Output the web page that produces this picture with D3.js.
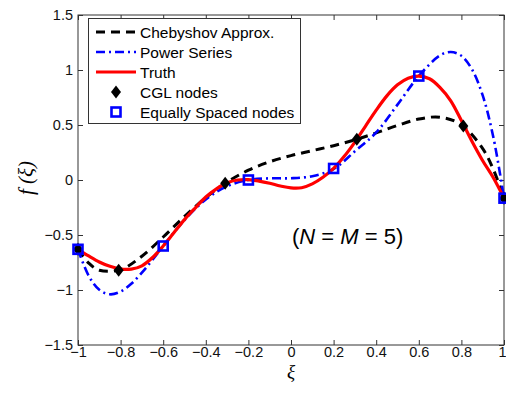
<!DOCTYPE html>
<html>
<head>
<meta charset="utf-8">
<script src="https://cdn.jsdelivr.net/npm/d3@7"></script>
<style>
  html, body { margin: 0; padding: 0; background: #fff; }
  svg { display: block; }
  text { font-family: "Liberation Sans", Arial, Helvetica, sans-serif; }
</style>
</head>
<body>
<svg id="chart" width="506" height="396"></svg>
<script>
// Sample grids and values for each curve
const truthX = [-1, -0.95, -0.9, -0.85, -0.8, -0.75, -0.7, -0.65, -0.6, -0.55, -0.5, -0.45, -0.4, -0.35, -0.3, -0.25, -0.2, -0.15, -0.1, -0.05, 0, 0.05, 0.1, 0.15, 0.2, 0.25, 0.3, 0.35, 0.4, 0.45, 0.5, 0.55, 0.6, 0.65, 0.7, 0.75, 0.8, 0.85, 0.9, 0.95, 1];
const truthY = [-0.63, -0.69, -0.745, -0.785, -0.81, -0.81, -0.78, -0.705, -0.60, -0.48, -0.36, -0.255, -0.155, -0.08, -0.025, 0.0, 0.003, -0.01, -0.03, -0.055, -0.072, -0.07, -0.035, 0.025, 0.105, 0.215, 0.345, 0.49, 0.635, 0.765, 0.865, 0.925, 0.945, 0.92, 0.84, 0.72, 0.54, 0.35, 0.175, 0.02, -0.165];

const chebX = [-1, -0.95, -0.9, -0.8, -0.7, -0.6, -0.5, -0.4, -0.3, -0.2, -0.1, 0, 0.1, 0.2, 0.3, 0.4, 0.5, 0.6, 0.7, 0.8, 0.9, 0.95, 1];
const chebY = [-0.63, -0.755, -0.820, -0.814, -0.693, -0.518, -0.331, -0.160, -0.019, 0.089, 0.166, 0.222, 0.267, 0.312, 0.365, 0.428, 0.496, 0.554, 0.571, 0.502, 0.285, 0.096, -0.165];

const powerX = [-1, -0.95, -0.9, -0.85, -0.8, -0.75, -0.7, -0.65, -0.6, -0.5, -0.4, -0.3, -0.2, -0.1, 0, 0.1, 0.2, 0.3, 0.4, 0.5, 0.6, 0.7, 0.75, 0.8, 0.85, 0.9, 0.95, 1];
const powerY = [-0.63, -0.870, -0.998, -1.039, -1.015, -0.944, -0.843, -0.725, -0.60, -0.364, -0.177, -0.057, 0.0, 0.015, 0.016, 0.035, 0.10, 0.261, 0.432, 0.685, 0.945, 1.133, 1.164, 1.129, 1.005, 0.769, 0.389, -0.165];

// Interpolation nodes
const cglX = [-1, -0.809, -0.309, 0.309, 0.809, 1];
const cglY = [-0.63, -0.82, -0.03, 0.37, 0.49, -0.165];
const eqX = [-1, -0.6, -0.2, 0.2, 0.6, 1];
const eqY = [-0.63, -0.60, 0.0, 0.105, 0.945, -0.165];

// Axis ticks
const xTicks = [-1, -0.8, -0.6, -0.4, -0.2, 0, 0.2, 0.4, 0.6, 0.8, 1];
const yTicks = [-1.5, -1, -0.5, 0, 0.5, 1, 1.5];

const legendLabels = ["Chebyshov Approx.", "Power Series", "Truth", "CGL nodes", "Equally Spaced nodes"];

const svg = d3.select("#chart");
const plotLeft = 78, plotRight = 504, plotTop = 15, plotBottom = 345;

const x = d3.scaleLinear().domain([-1, 1]).range([plotLeft, plotRight]);
const y = d3.scaleLinear().domain([-1.5, 1.5]).range([plotBottom, plotTop]);

const fmt = v => (v < 0 ? "\u2212" : "") + String(Math.abs(v));

// Frame
svg.append("rect")
  .attr("x", plotLeft).attr("y", plotTop)
  .attr("width", plotRight - plotLeft).attr("height", plotBottom - plotTop)
  .attr("fill", "none").attr("stroke", "#333").attr("stroke-width", 1);

// Axes with inward ticks
const axB = svg.append("g").attr("transform", `translate(0,${plotBottom})`)
  .call(d3.axisBottom(x).tickValues(xTicks).tickSize(-5).tickPadding(2).tickFormat(fmt));
const axT = svg.append("g").attr("transform", `translate(0,${plotTop})`)
  .call(d3.axisTop(x).tickValues(xTicks).tickSize(-5).tickFormat(""));
const axL = svg.append("g").attr("transform", `translate(${plotLeft},0)`)
  .call(d3.axisLeft(y).tickValues(yTicks).tickSize(-5).tickPadding(5).tickFormat(fmt));
const axR = svg.append("g").attr("transform", `translate(${plotRight},0)`)
  .call(d3.axisRight(y).tickValues(yTicks).tickSize(-5).tickFormat(""));
[axB, axT, axL, axR].forEach(g => {
  g.select(".domain").remove();
  g.selectAll(".tick line").attr("stroke", "#333");
  g.selectAll("text").attr("fill", "#111").style("font-size", "14.5px")
    .style("font-family", "'Liberation Sans', Arial, sans-serif");
});
// keep the last x label inside the page edge
axB.selectAll(".tick text").filter(d => d === 1).attr("text-anchor", "end").attr("x", 2);

// Curves
const line = (xs, ys) => d3.line()
  .x((d, i) => x(xs[i])).y((d, i) => y(ys[i]))
  .curve(d3.curveCatmullRom.alpha(0.5))(ys);

const plot = svg.append("g");
plot.append("path").attr("d", line(chebX, chebY))
  .attr("fill", "none").attr("stroke", "#000").attr("stroke-width", 3)
  .attr("stroke-dasharray", "9,6");
plot.append("path").attr("d", line(powerX, powerY))
  .attr("fill", "none").attr("stroke", "#0000ff").attr("stroke-width", 2.6)
  .attr("stroke-dasharray", "9,4,2,4");
plot.append("path").attr("d", line(truthX, truthY))
  .attr("fill", "none").attr("stroke", "#ff0000").attr("stroke-width", 3.2);

// Node markers
const diamond = "M0,-6.5L5,0L0,6.5L-5,0Z";
plot.selectAll(".cgl").data(cglY).join("path").attr("class", "cgl")
  .attr("d", diamond)
  .attr("transform", (d, i) => `translate(${x(cglX[i])},${y(d)})`)
  .attr("fill", "#000");
plot.selectAll(".eq").data(eqY).join("rect").attr("class", "eq")
  .attr("x", (d, i) => x(eqX[i]) - 4.5).attr("y", d => y(d) - 4.5)
  .attr("width", 9).attr("height", 9)
  .attr("fill", "none").attr("stroke", "#0000ff").attr("stroke-width", 2.6);

// Legend
const lg = svg.append("g");
lg.append("rect").attr("x", 88.5).attr("y", 18.5).attr("width", 212).attr("height", 105)
  .attr("fill", "#fff").attr("stroke", "#333").attr("stroke-width", 1);
const rowY = i => 32 + i * 20;
lg.append("line").attr("x1", 96).attr("x2", 136).attr("y1", rowY(0)).attr("y2", rowY(0))
  .attr("stroke", "#000").attr("stroke-width", 3).attr("stroke-dasharray", "9,6");
lg.append("line").attr("x1", 96).attr("x2", 136).attr("y1", rowY(1)).attr("y2", rowY(1))
  .attr("stroke", "#0000ff").attr("stroke-width", 2.6).attr("stroke-dasharray", "9,4,2,4");
lg.append("line").attr("x1", 96).attr("x2", 136).attr("y1", rowY(2)).attr("y2", rowY(2))
  .attr("stroke", "#ff0000").attr("stroke-width", 3.2);
lg.append("path").attr("d", diamond).attr("transform", `translate(116,${rowY(3)})`).attr("fill", "#000");
lg.append("rect").attr("x", 111.5).attr("y", rowY(4) - 4.5).attr("width", 9).attr("height", 9)
  .attr("fill", "none").attr("stroke", "#0000ff").attr("stroke-width", 2.6);
lg.selectAll(".lab").data(legendLabels).join("text").attr("class", "lab")
  .attr("x", 140).attr("y", (d, i) => rowY(i) + 5.5)
  .style("font-size", "15.5px").attr("fill", "#000").text(d => d);

// Annotation
const ann = svg.append("text").attr("x", 292).attr("y", 244)
  .style("font-size", "22px").attr("fill", "#000");
ann.append("tspan").text("(");
ann.append("tspan").style("font-style", "italic").text("N");
ann.append("tspan").text(" = ");
ann.append("tspan").style("font-style", "italic").text("M");
ann.append("tspan").text(" = 5)");

// Axis titles
svg.append("text").attr("x", x(0)).attr("y", 378).attr("text-anchor", "middle")
  .style("font-family", "'Liberation Serif', 'DejaVu Serif', serif")
  .style("font-style", "italic").style("font-size", "19px").text("\u03BE");
svg.append("text").attr("transform", "translate(33,178) rotate(-90)").attr("text-anchor", "middle")
  .style("font-family", "'Liberation Serif', 'DejaVu Serif', serif")
  .style("font-style", "italic").style("font-size", "21px").text("f (\u03BE)");
</script>
</body>
</html>
